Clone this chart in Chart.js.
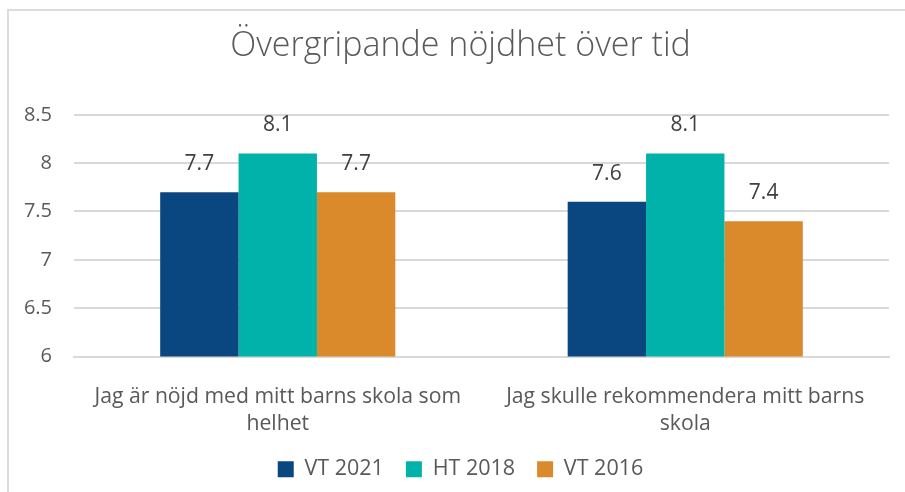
<!DOCTYPE html>
<html lang="sv">
<head>
<meta charset="utf-8">
<title>Övergripande nöjdhet över tid</title>
<script src="https://cdn.jsdelivr.net/npm/chart.js@4/dist/chart.umd.min.js"></script>
<style>
    html, body { margin: 0; padding: 0; background: #fff; }
    .frame {
        position: absolute; left: 7px; top: 9px; width: 910px; height: 500px;
        border-top: 2px solid #dcdcdc; border-left: 2px solid #dcdcdc;
    }
    .chart-wrap { position: absolute; left: 0; top: 0; width: 905px; height: 492px; }
</style>
</head>
<body>
<div class="frame"></div>
<div class="chart-wrap"><canvas id="chart" width="905" height="492"></canvas></div>
<script>
const categories = [
    ['Jag är nöjd med mitt barns skola som', 'helhet'],
    ['Jag skulle rekommendera mitt barns', 'skola']
];
const seriesNames = ['VT 2021', 'HT 2018', 'VT 2016'];
const vt2021 = [7.7, 7.6];
const ht2018 = [8.1, 8.1];
const vt2016 = [7.7, 7.4];
const yTicks = [6, 6.5, 7, 7.5, 8, 8.5];

const colors = ['#0a4680', '#00b2aa', '#da8a2b'];
const textColor = '#595959';
const fontFamily = '"Open Sans", "Liberation Sans", sans-serif';

// etiketter ovanför staplarna
const barLabels = {
    id: 'barLabels',
    afterDatasetsDraw(chart) {
        const ctx = chart.ctx;
        ctx.save();
        ctx.font = '21px ' + fontFamily;
        ctx.fillStyle = '#404040';
        ctx.textAlign = 'center';
        ctx.textBaseline = 'middle';
        chart.data.datasets.forEach((ds, i) => {
            chart.getDatasetMeta(i).data.forEach((bar, j) => {
                ctx.fillText(ds.data[j].toString(), bar.x, bar.y - 28);
            });
        });
        ctx.restore();
    }
};

// rubrik och förklaring centreras över ramen, inte över ritytan
const shiftBlocks = {
    id: 'shiftBlocks',
    afterLayout(chart) {
        [chart.titleBlock, chart.legend].forEach(b => {
            if (!b) return;
            b.left += 12;
            b.right += 12;
        });
    }
};

const data = {
    labels: categories,
    datasets: [vt2021, ht2018, vt2016].map((vals, i) => ({
        label: seriesNames[i],
        data: vals,
        backgroundColor: colors[i],
        borderWidth: 0,
        barPercentage: 1,
        categoryPercentage: 0.577
    }))
};

new Chart(document.getElementById('chart'), {
    type: 'bar',
    data: data,
    plugins: [barLabels, shiftBlocks],
    options: {
        responsive: false,
        animation: false,
        layout: { padding: { left: 8, right: 16, top: 10, bottom: 2 } },
        plugins: {
            title: {
                display: true,
                text: 'Övergripande nöjdhet över tid',
                color: textColor,
                font: { family: fontFamily, size: 34, weight: '300' },
                padding: { top: 16, bottom: 48 }
            },
            legend: {
                position: 'bottom',
                labels: {
                    color: textColor,
                    font: { family: fontFamily, size: 21.5 },
                    boxWidth: 16,
                    boxHeight: 16,
                    padding: 22
                }
            },
            tooltip: { enabled: false }
        },
        scales: {
            x: {
                grid: { display: false },
                border: { color: '#d9d9d9', width: 2 },
                ticks: {
                    color: textColor,
                    font: { family: fontFamily, size: 21.2, lineHeight: 1.27 },
                    padding: 19,
                    maxRotation: 0
                },
                afterFit: scale => { scale.height = 80; }
            },
            y: {
                min: 6,
                max: 8.5,
                afterBuildTicks: scale => { scale.ticks = yTicks.map(v => ({ value: v })); },
                grid: { color: '#d9d9d9', lineWidth: 2, drawTicks: false },
                border: { display: false },
                ticks: {
                    color: textColor,
                    font: { family: fontFamily, size: 20 },
                    padding: 22,
                    callback: v => String(v)
                },
                afterFit: scale => { scale.width = 66; }
            }
        }
    }
});
</script>
</body>
</html>
